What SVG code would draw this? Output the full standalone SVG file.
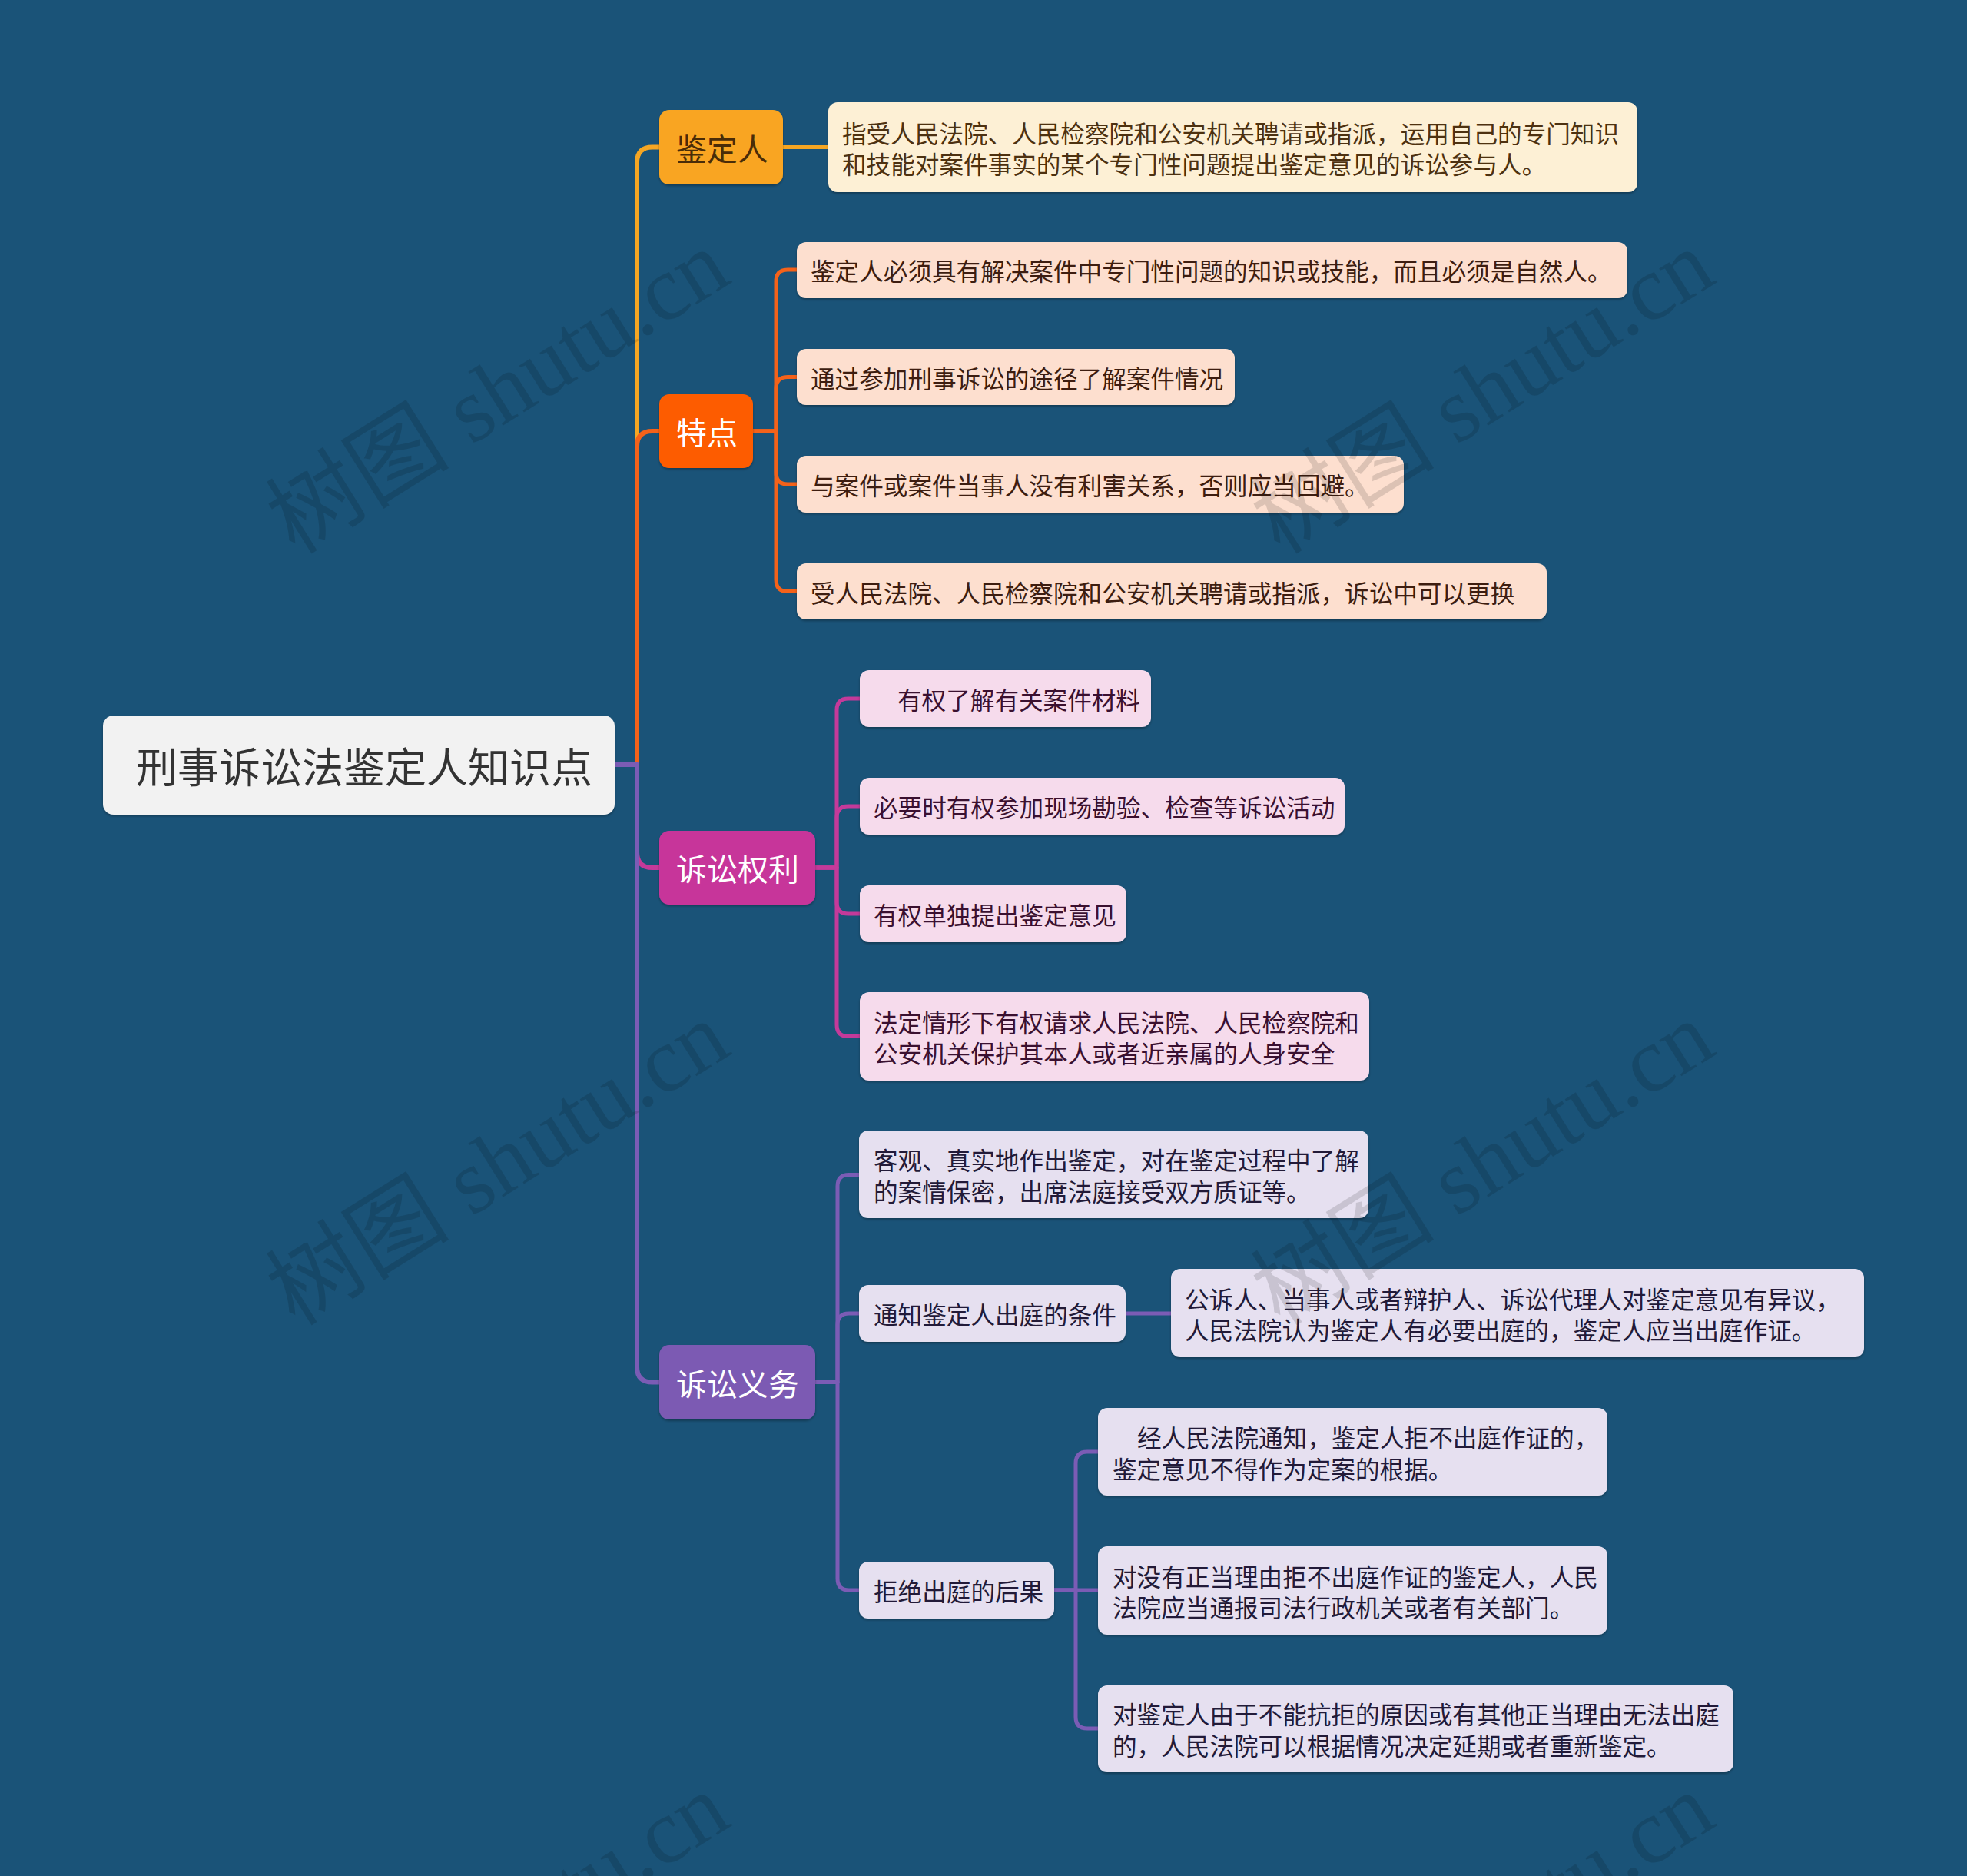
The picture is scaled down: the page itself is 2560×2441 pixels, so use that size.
<svg xmlns="http://www.w3.org/2000/svg" width="2560" height="2441" viewBox="0 0 2560 2441">
<defs>
<filter id="sh" x="-5%" y="-10%" width="110%" height="130%">
<feDropShadow dx="0" dy="2" stdDeviation="1.5" flood-color="#000" flood-opacity="0.3"/>
</filter>
<style>
text{font-family:"Noto Sans CJK SC","Noto Sans",sans-serif;dominant-baseline:central}
.root rect{fill:#f2f2f2}
.root text{font-size:54px;fill:#333}
.l1 text{font-size:40px}
.l2 text{font-size:31.6px}
.y rect{fill:#f9a520}.y text{fill:#4a2c08}
.o rect{fill:#fd5b06}.o text{fill:#fff}
.m rect{fill:#c7369a}.m text{fill:#fff}
.p rect{fill:#7c5ab3}.p text{fill:#fff}
.yk rect{fill:#fdf0d5}.yk text{fill:#4d3110}
.ok rect{fill:#fddfcf}.ok text{fill:#3d1d10}
.mk rect{fill:#f6dbec}.mk text{fill:#3a1030}
.pk rect{fill:#e6e0f0}.pk text{fill:#221a38}
#connectors path{fill:none;stroke-linejoin:round}
.cy{stroke:#f5a623;stroke-width:6}
.co{stroke:#f4621a;stroke-width:6}
.cm{stroke:#c43a9a;stroke-width:6}
.cp{stroke:#7b5cb5;stroke-width:6}
.s{stroke-width:5 !important}
.wm{font-family:"Liberation Serif","Noto Sans CJK SC",serif;font-size:120px;fill:#000;fill-opacity:0.13;text-anchor:middle;dominant-baseline:central}
</style>
</defs>
<rect width="2560" height="2441" fill="#1a5378"/>

<g id="connectors">
<path class="cy" d="M800,995 H829 V211.5 Q829,191.5 849,191.5 H858"/>
<path class="co" d="M800,995 H829 V581 Q829,561 849,561 H858"/>
<path class="cm" d="M800,995 H829 V1109 Q829,1129 849,1129 H858"/>
<path class="cp" d="M800,995 H829 V1778.5 Q829,1798.5 849,1798.5 H858"/>
<path class="cy s" d="M1019,191.5 H1078"/>
<path class="co s" d="M980,561 H1010 V366 Q1010,351 1025,351 H1037"/>
<path class="co s" d="M980,561 H1010 V505.5 Q1010,490.5 1025,490.5 H1037"/>
<path class="co s" d="M980,561 H1010 V615 Q1010,630 1025,630 H1037"/>
<path class="co s" d="M980,561 H1010 V754.5 Q1010,769.5 1025,769.5 H1037"/>
<path class="cm s" d="M1061,1129 H1089 V924 Q1089,909 1104,909 H1119"/>
<path class="cm s" d="M1061,1129 H1089 V1064 Q1089,1049 1104,1049 H1119"/>
<path class="cm s" d="M1061,1129 H1089 V1174 Q1089,1189 1104,1189 H1119"/>
<path class="cm s" d="M1061,1129 H1089 V1333.5 Q1089,1348.5 1104,1348.5 H1119"/>
<path class="cp s" d="M1061,1798.5 H1090 V1543.5 Q1090,1528.5 1105,1528.5 H1118"/>
<path class="cp s" d="M1061,1798.5 H1090 V1724 Q1090,1709 1105,1709 H1118"/>
<path class="cp s" d="M1061,1798.5 H1090 V2054 Q1090,2069 1105,2069 H1118"/>
<path class="cp s" d="M1465,1709 H1524"/>
<path class="cp s" d="M1372,2069 H1400 V1904 Q1400,1889 1415,1889 H1429"/>
<path class="cp s" d="M1372,2069 H1429"/>
<path class="cp s" d="M1372,2069 H1400 V2234 Q1400,2249 1415,2249 H1429"/>
</g>

<g id="root" class="root"><rect x="134" y="931" width="666" height="129" rx="14" filter="url(#sh)"/><text x="177" y="995">刑事诉讼法鉴定人知识点</text></g>

<g id="n-jdr" class="l1 y"><rect x="858" y="143" width="161" height="97" rx="13" filter="url(#sh)"/><text x="880" y="191.5">鉴定人</text></g>
<g id="n-td" class="l1 o"><rect x="858" y="513" width="122" height="96" rx="13" filter="url(#sh)"/><text x="880" y="561">特点</text></g>
<g id="n-ssql" class="l1 m"><rect x="858" y="1081" width="203" height="96" rx="13" filter="url(#sh)"/><text x="880" y="1129">诉讼权利</text></g>
<g id="n-ssyw" class="l1 p"><rect x="858" y="1750" width="203" height="97" rx="13" filter="url(#sh)"/><text x="880" y="1798.5">诉讼义务</text></g>

<g id="n-jdr-def" class="l2 yk"><rect x="1078" y="133" width="1053" height="117" rx="12" filter="url(#sh)"/><text x="1096" y="171.5">指受人民法院、人民检察院和公安机关聘请或指派，运用自己的专门知识</text><text x="1096" y="212">和技能对案件事实的某个专门性问题提出鉴定意见的诉讼参与人。</text></g>

<g id="n-td-1" class="l2 ok"><rect x="1037" y="315" width="1081" height="73" rx="12" filter="url(#sh)"/><text x="1055" y="351">鉴定人必须具有解决案件中专门性问题的知识或技能，而且必须是自然人。</text></g>
<g id="n-td-2" class="l2 ok"><rect x="1037" y="454" width="570" height="73" rx="12" filter="url(#sh)"/><text x="1055" y="490.5">通过参加刑事诉讼的途径了解案件情况</text></g>
<g id="n-td-3" class="l2 ok"><rect x="1037" y="593" width="790" height="74" rx="12" filter="url(#sh)"/><text x="1055" y="630">与案件或案件当事人没有利害关系，否则应当回避。</text></g>
<g id="n-td-4" class="l2 ok"><rect x="1037" y="733" width="976" height="73" rx="12" filter="url(#sh)"/><text x="1055" y="769.5">受人民法院、人民检察院和公安机关聘请或指派，诉讼中可以更换</text></g>

<g id="n-ql-1" class="l2 mk"><rect x="1119" y="872" width="379" height="74" rx="12" filter="url(#sh)"/><text x="1168" y="909">有权了解有关案件材料</text></g>
<g id="n-ql-2" class="l2 mk"><rect x="1119" y="1012" width="631" height="74" rx="12" filter="url(#sh)"/><text x="1137" y="1049">必要时有权参加现场勘验、检查等诉讼活动</text></g>
<g id="n-ql-3" class="l2 mk"><rect x="1119" y="1152" width="347" height="74" rx="12" filter="url(#sh)"/><text x="1137" y="1189">有权单独提出鉴定意见</text></g>
<g id="n-ql-4" class="l2 mk"><rect x="1119" y="1291" width="663" height="115" rx="12" filter="url(#sh)"/><text x="1137" y="1328.5">法定情形下有权请求人民法院、人民检察院和</text><text x="1137" y="1369">公安机关保护其本人或者近亲属的人身安全</text></g>

<g id="n-yw-1" class="l2 pk"><rect x="1118" y="1471" width="663" height="114" rx="12" filter="url(#sh)"/><text x="1137" y="1508">客观、真实地作出鉴定，对在鉴定过程中了解</text><text x="1137" y="1548.5">的案情保密，出席法庭接受双方质证等。</text></g>
<g id="n-yw-2" class="l2 pk"><rect x="1118" y="1672" width="347" height="74" rx="12" filter="url(#sh)"/><text x="1137" y="1709">通知鉴定人出庭的条件</text></g>
<g id="n-yw-2-1" class="l2 pk"><rect x="1524" y="1651" width="902" height="115" rx="12" filter="url(#sh)"/><text x="1542" y="1688.5">公诉人、当事人或者辩护人、诉讼代理人对鉴定意见有异议，</text><text x="1542" y="1729">人民法院认为鉴定人有必要出庭的，鉴定人应当出庭作证。</text></g>
<g id="n-yw-3" class="l2 pk"><rect x="1118" y="2032" width="254" height="74" rx="12" filter="url(#sh)"/><text x="1137" y="2069">拒绝出庭的后果</text></g>
<g id="n-yw-3-1" class="l2 pk"><rect x="1429" y="1832" width="663" height="114" rx="12" filter="url(#sh)"/><text x="1480" y="1869">经人民法院通知，鉴定人拒不出庭作证的，</text><text x="1448" y="1909.5">鉴定意见不得作为定案的根据。</text></g>
<g id="n-yw-3-2" class="l2 pk"><rect x="1429" y="2012" width="663" height="115" rx="12" filter="url(#sh)"/><text x="1448" y="2049.5">对没有正当理由拒不出庭作证的鉴定人，人民</text><text x="1448" y="2090">法院应当通报司法行政机关或者有关部门。</text></g>
<g id="n-yw-3-3" class="l2 pk"><rect x="1429" y="2193" width="827" height="113" rx="12" filter="url(#sh)"/><text x="1448" y="2229">对鉴定人由于不能抗拒的原因或有其他正当理由无法出庭</text><text x="1448" y="2269.5">的，人民法院可以根据情况决定延期或者重新鉴定。</text></g>

<g id="watermarks">
<text class="wm" x="648" y="510" transform="rotate(-32 648 510)">树图 shutu.cn</text>
<text class="wm" x="1930" y="510" transform="rotate(-32 1930 510)">树图 shutu.cn</text>
<text class="wm" x="648" y="1514" transform="rotate(-32 648 1514)">树图 shutu.cn</text>
<text class="wm" x="1930" y="1514" transform="rotate(-32 1930 1514)">树图 shutu.cn</text>
<text class="wm" x="648" y="2518" transform="rotate(-32 648 2518)">树图 shutu.cn</text>
<text class="wm" x="1930" y="2518" transform="rotate(-32 1930 2518)">树图 shutu.cn</text>
</g>
</svg>
